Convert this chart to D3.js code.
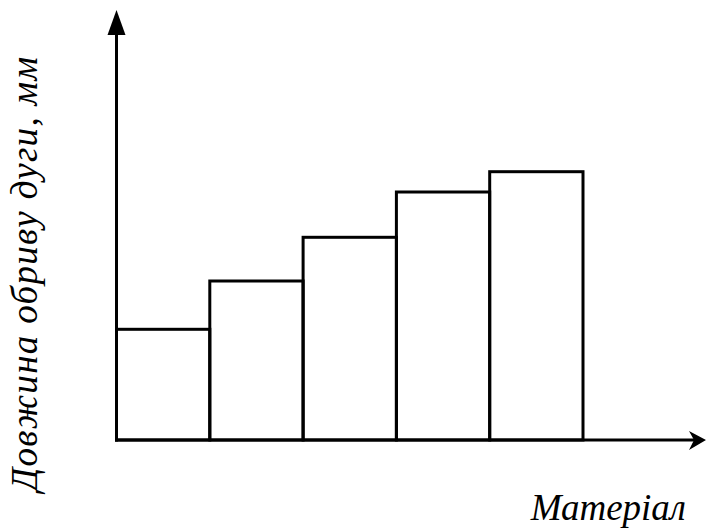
<!DOCTYPE html>
<html><head><meta charset="utf-8">
<script src="https://cdn.jsdelivr.net/npm/d3@7"></script>
<style>body{margin:0;background:#fff}svg{display:block}</style>
</head><body>
<script>
const categories = ["1","2","3","4","5"];
const values = [110.7, 159, 202.7, 248, 268.3];
const yLabel = "Довжина обриву дуги, мм";
const xLabel = "Матеріал";

const W = 707, H = 529;
const svg = d3.select("body").append("svg").attr("width", W).attr("height", H);
const x = d3.scaleBand().domain(categories).range([116.5, 583]).padding(0);
const y = d3.scaleLinear().domain([0, 420]).range([440, 20]);

const g = svg.append("g");
g.selectAll("rect.bar").data(values).join("rect")
  .attr("class","bar")
  .attr("x",(d,i)=>x(categories[i]))
  .attr("y",d=>y(d))
  .attr("width",x.bandwidth())
  .attr("height",d=>y(0)-y(d))
  .attr("fill","none").attr("stroke","#000").attr("stroke-width",3);

g.append("line").attr("x1",116.5).attr("x2",116.5).attr("y1",y(0)+1.5).attr("y2",30)
  .attr("stroke","#000").attr("stroke-width",3);
g.append("line").attr("x1",115).attr("x2",695).attr("y1",y(0)).attr("y2",y(0))
  .attr("stroke","#000").attr("stroke-width",3);
g.append("path").attr("d","M116.5,10 L125.5,35 L107.5,35 Z").attr("fill","#000");
g.append("path").attr("d","M706,440 L689,431 L694,440 L689,450 Z").attr("fill","#000");

svg.append("text").attr("transform","translate(37,273.5) rotate(-90)")
  .attr("text-anchor","middle")
  .attr("font-family","Liberation Serif, Times New Roman, serif")
  .attr("letter-spacing","1.3")
  .attr("font-style","italic").attr("font-size","37px").text(yLabel);
svg.append("text").attr("x",686).attr("y",520).attr("text-anchor","end")
  .attr("font-family","Liberation Serif, Times New Roman, serif")
  .attr("font-style","italic").attr("font-size","37px").text(xLabel);
</script>
</body></html>
